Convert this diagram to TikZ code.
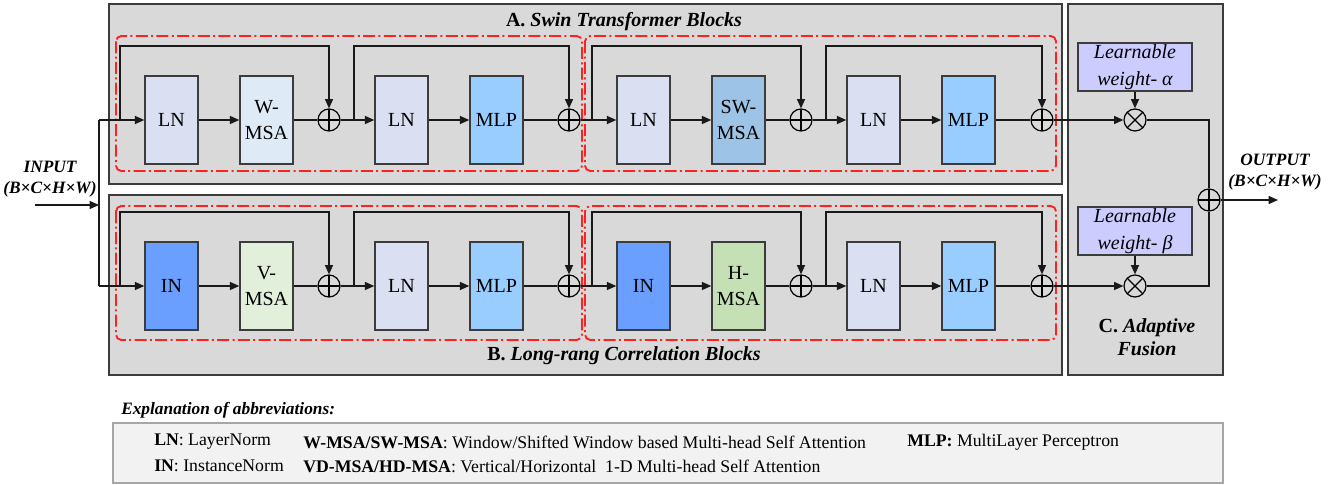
\documentclass[tikz,border=0pt]{standalone}
\usepackage{fontspec}
\setmainfont{Liberation Serif}
\usetikzlibrary{arrows.meta,calc}
\definecolor{panel}{HTML}{D9D9D9}
\definecolor{edge}{HTML}{3C3C3C}
\definecolor{lncol}{HTML}{DAE0F2}
\definecolor{wmsacol}{HTML}{DEEBF7}
\definecolor{mlpcol}{HTML}{99CCFF}
\definecolor{swmsacol}{HTML}{9DC3E6}
\definecolor{incol}{HTML}{6A9FFF}
\definecolor{vmsacol}{HTML}{E2EFDA}
\definecolor{hmsacol}{HTML}{C5E0B4}
\definecolor{lwcol}{HTML}{CCCCFF}
\definecolor{legfill}{HTML}{F2F2F2}
\definecolor{legedge}{HTML}{A6A6A6}
\definecolor{dashred}{HTML}{FF2020}
\begin{document}
\begin{tikzpicture}[x=0.75pt,y=-0.75pt,
  panelbox/.style={draw=edge,fill=panel,line width=1.5pt},
  blk/.style={draw=edge,line width=1.1pt,minimum width=39.75pt,minimum height=66pt,inner sep=0pt,align=center,font=\fontsize{15}{19.5}\selectfont},
  grp/.style={draw=dashred,line width=1.4pt,rounded corners=4pt,dash pattern=on 9pt off 2.5pt on 1.5pt off 2.5pt},
  sumbase/.style={circle,draw=black,line width=0.9pt,minimum size=16.5pt,inner sep=0pt},
  oplusnode/.style={sumbase,path picture={\draw[line width=0.9pt] (path picture bounding box.north) -- (path picture bounding box.south) (path picture bounding box.west) -- (path picture bounding box.east);}},
  otimesnode/.style={sumbase,path picture={\draw[line width=0.9pt] (path picture bounding box.north west) -- (path picture bounding box.south east) (path picture bounding box.south west) -- (path picture bounding box.north east);}},
  conn/.style={line width=1pt,draw=black!90},
  arr/.style={conn,-{Triangle[length=7pt,width=6pt]}},
  lw/.style={draw=edge,fill=lwcol,line width=1.1pt,minimum width=85.5pt,minimum height=36pt,inner sep=0pt,align=center,font=\fontsize{15}{20}\selectfont\itshape},
  title/.style={inner sep=0pt,font=\fontsize{15}{17.25}\selectfont\bfseries,align=center},
  iolabel/.style={inner sep=0pt,font=\fontsize{13}{16}\selectfont\bfseries\itshape,align=center},
  legtext/.style={inner sep=0pt,anchor=west,font=\fontsize{13.3}{15}\selectfont}
]
\fill[white] (0,0) rectangle (1339,485);
\useasboundingbox (0,0) rectangle (1339,485);

% panels
\draw[panelbox] (109,4) rectangle (1062,184);
\draw[panelbox] (109,195) rectangle (1062,375);
\draw[panelbox] (1068,4) rectangle (1223,375);

% red groups
\draw[grp] (116,36) rectangle (582,171);
\draw[grp] (585,36) rectangle (1056,171);
\draw[grp] (116,206) rectangle (582,340);
\draw[grp] (585,206) rectangle (1056,340);

% titles
\node[title] (tA) at (624,22) {A. \textit{Swin Transformer Blocks}};
\node[title] (tB) at (624,356) {B. \textit{Long-rang Correlation Blocks}};
\node[title] (tC) at (1147,337) {C. \textit{Adaptive}\\\textit{Fusion}};
\node[iolabel] (lin) at (50,179) {INPUT\\(B×C×H×W)};
\node[iolabel] (lout) at (1275,172) {OUTPUT\\(B×C×H×W)};

% top row
\node[blk,fill=lncol] (tLN1) at (171.5,120) {LN};
\node[blk,fill=wmsacol] (tMSA1) at (266.5,120) {W-\\MSA};
\node[oplusnode] (tP1) at (329,120) {};
\node[blk,fill=lncol] (tLN2) at (401.5,120) {LN};
\node[blk,fill=mlpcol] (tMLP1) at (496.5,120) {MLP};
\node[oplusnode] (tP2) at (569,120) {};
\node[blk,fill=lncol] (tLN3) at (643.5,120) {LN};
\node[blk,fill=swmsacol] (tMSA2) at (738.5,120) {SW-\\MSA};
\node[oplusnode] (tP3) at (801,120) {};
\node[blk,fill=lncol] (tLN4) at (873.5,120) {LN};
\node[blk,fill=mlpcol] (tMLP2) at (968.5,120) {MLP};
\node[oplusnode] (tP4) at (1042,120) {};

% bottom row
\node[blk,fill=incol] (bIN1) at (171.5,286) {IN};
\node[blk,fill=vmsacol] (bMSA1) at (266.5,286) {V-\\MSA};
\node[oplusnode] (bP1) at (329,286) {};
\node[blk,fill=lncol] (bLN2) at (401.5,286) {LN};
\node[blk,fill=mlpcol] (bMLP1) at (496.5,286) {MLP};
\node[oplusnode] (bP2) at (569,286) {};
\node[blk,fill=incol] (bIN3) at (643.5,286) {IN};
\node[blk,fill=hmsacol] (bMSA2) at (738.5,286) {H-\\MSA};
\node[oplusnode] (bP3) at (801,286) {};
\node[blk,fill=lncol] (bLN4) at (873.5,286) {LN};
\node[blk,fill=mlpcol] (bMLP2) at (968.5,286) {MLP};
\node[oplusnode] (bP4) at (1042,286) {};

% fusion
\node[lw] (wA) at (1135,67) {Learnable\\weight- α};
\node[otimesnode] (xA) at (1135,120) {};
\node[lw] (wB) at (1135,231) {Learnable\\weight- β};
\node[otimesnode] (xB) at (1135,286) {};
\node[oplusnode] (sum) at (1209,200) {};
\coordinate (out) at (1278,200);

% input
\coordinate (inA) at (35,205);
\coordinate (inJ) at (99,205);
\coordinate (inT) at (99,120);
\coordinate (inB) at (99,286);
\draw[arr] (inA) -- (inJ);
\draw[conn] (inT) -- (inB);

% branch points
\coordinate (tS1) at (120,120);
\coordinate (tS2) at (354,120);
\coordinate (tS3) at (592,120);
\coordinate (tS4) at (826,120);
\coordinate (bS1) at (120,286);
\coordinate (bS2) at (354,286);
\coordinate (bS3) at (592,286);
\coordinate (bS4) at (826,286);

% top connectors
\draw[arr] (inT) -- (tLN1);
\draw[arr] (tLN1) -- (tMSA1);
\draw[conn] (tMSA1) -- (tP1);
\draw[arr] (tP1) -- (tLN2);
\draw[arr] (tLN2) -- (tMLP1);
\draw[conn] (tMLP1) -- (tP2);
\draw[arr] (tP2) -- (tLN3);
\draw[arr] (tLN3) -- (tMSA2);
\draw[conn] (tMSA2) -- (tP3);
\draw[arr] (tP3) -- (tLN4);
\draw[arr] (tLN4) -- (tMLP2);
\draw[conn] (tMLP2) -- (tP4);
\draw[arr] (tS1) -- ++(0,-74) -| (tP1);
\draw[arr] (tS2) -- ++(0,-74) -| (tP2);
\draw[arr] (tS3) -- ++(0,-74) -| (tP3);
\draw[arr] (tS4) -- ++(0,-74) -| (tP4);

% bottom connectors
\draw[arr] (inB) -- (bIN1);
\draw[arr] (bIN1) -- (bMSA1);
\draw[conn] (bMSA1) -- (bP1);
\draw[arr] (bP1) -- (bLN2);
\draw[arr] (bLN2) -- (bMLP1);
\draw[conn] (bMLP1) -- (bP2);
\draw[arr] (bP2) -- (bIN3);
\draw[arr] (bIN3) -- (bMSA2);
\draw[conn] (bMSA2) -- (bP3);
\draw[arr] (bP3) -- (bLN4);
\draw[arr] (bLN4) -- (bMLP2);
\draw[conn] (bMLP2) -- (bP4);
\draw[arr] (bS1) -- ++(0,-74) -| (bP1);
\draw[arr] (bS2) -- ++(0,-74) -| (bP2);
\draw[arr] (bS3) -- ++(0,-74) -| (bP3);
\draw[arr] (bS4) -- ++(0,-74) -| (bP4);

% fusion connectors
\draw[arr] (tP4) -- (xA);
\draw[arr] (bP4) -- (xB);
\draw[arr] (wA) -- (xA);
\draw[arr] (wB) -- (xB);
\draw[conn] (xA) -| (sum);
\draw[conn] (xB) -| (sum);
\draw[arr] (sum) -- (out);

% legend
\node[inner sep=0pt,anchor=west,font=\fontsize{13}{15}\selectfont\bfseries\itshape] (lgt) at (121,410) {Explanation of abbreviations:};
\draw[draw=legedge,fill=legfill,line width=0.9pt] (113,423) rectangle (1223,483);
\node[legtext] (l1) at (154,442) {\textbf{LN}: LayerNorm};
\node[legtext] (l2) at (303,442) {\textbf{W-MSA/SW-MSA}: Window/Shifted Window based Multi-head Self Attention};
\node[legtext] (l3) at (907,442) {\textbf{MLP:} MultiLayer Perceptron};
\node[legtext] (l4) at (154,466) {\textbf{IN}: InstanceNorm};
\node[legtext] (l5) at (303,466) {\textbf{VD-MSA/HD-MSA}: Vertical/Horizontal\ \ 1-D Multi-head Self Attention};
\end{tikzpicture}
\end{document}
